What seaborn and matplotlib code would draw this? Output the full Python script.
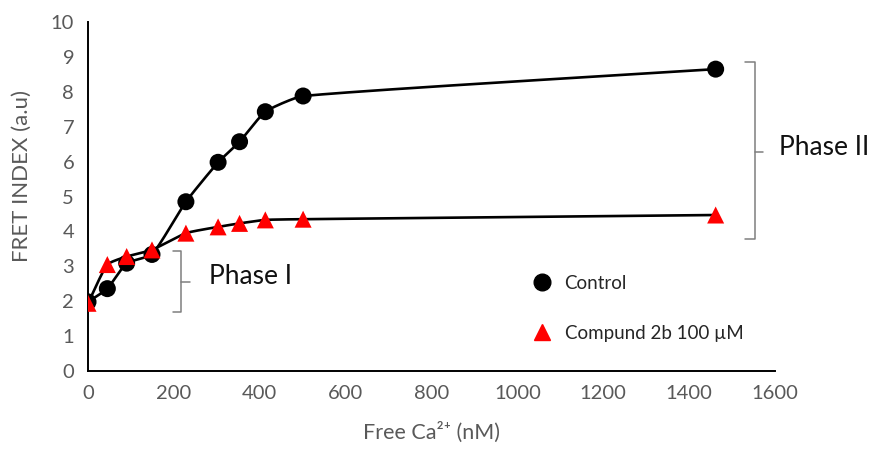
import numpy as np
import pandas as pd
import matplotlib
matplotlib.use("Agg")
import matplotlib.pyplot as plt
import seaborn as sns
from matplotlib.lines import Line2D

# ---- data ----
ctrl_x = [0, 45, 90, 149, 228, 303, 353, 413, 501, 1462]
ctrl_y = [1.98, 2.36, 3.09, 3.34, 4.85, 5.98, 6.57, 7.43, 7.88, 8.65]
cmp_x = [0, 45, 90, 149, 228, 303, 353, 413, 501, 1462]
cmp_y = [1.94, 3.05, 3.28, 3.47, 3.95, 4.13, 4.23, 4.33, 4.35, 4.47]
series_names = ["Control", "Compund 2b 100 \u00b5M"]
x_ticks = [0, 200, 400, 600, 800, 1000, 1200, 1400, 1600]
y_ticks = list(range(0, 11))

sns.set_theme(style="white")
plt.rcParams['font.family'] = ['Lato', 'DejaVu Sans']

fig = plt.figure(figsize=(8.75, 4.55), dpi=100)
ax = fig.add_axes([0.1006, 0.1846, 0.785, 0.767])

GRAY = "#595959"

def smooth(xs, ys, sx=0.4306, sy=34.9, n=40, k=0.5):
    # smoothed Bezier path computed in display-scaled space,
    # handle lengths proportional to adjacent segment lengths
    P = np.column_stack([np.asarray(xs) * sx, np.asarray(ys) * sy])
    m = len(P)
    D = []
    for i in range(m):
        a = P[i - 1] if i > 0 else P[i]
        b = P[i + 1] if i + 1 < m else P[i]
        d = b - a
        D.append(d / (np.linalg.norm(d) + 1e-9))
    out = []
    for i in range(m - 1):
        p1, p2 = P[i], P[i + 1]
        L = np.linalg.norm(p2 - p1)
        c1 = p1 + D[i] * L * k / 1.5 * 0.5
        c2 = p2 - D[i + 1] * L * k / 1.5 * 0.5
        t = np.linspace(0, 1, n)[:, None]
        seg = ((1 - t) ** 3) * p1 + 3 * ((1 - t) ** 2) * t * c1 + 3 * (1 - t) * t ** 2 * c2 + t ** 3 * p2
        out.append(seg if i == 0 else seg[1:])
    out = np.vstack(out)
    return out[:, 0] / sx, out[:, 1] / sy

for xs, ys in [(ctrl_x, ctrl_y), (cmp_x, cmp_y)]:
    sxv, syv = smooth(xs, ys)
    ax.plot(sxv, syv, color="black", lw=1.9, zorder=2, solid_capstyle="round")

df = pd.concat([
    pd.DataFrame({"x": ctrl_x, "y": ctrl_y, "s": series_names[0]}),
    pd.DataFrame({"x": cmp_x, "y": cmp_y, "s": series_names[1]}),
])
sns.scatterplot(data=df, x="x", y="y", hue="s", style="s",
                palette={series_names[0]: "black", series_names[1]: "#ff0000"},
                markers={series_names[0]: "o", series_names[1]: "^"},
                s=150, edgecolor="none", linewidth=0, legend=False, ax=ax, zorder=3)

ax.set_xlim(0, 1600)
ax.set_ylim(0, 10)
ax.set_xticks(x_ticks)
ax.set_yticks(y_ticks)
ax.tick_params(axis="both", length=0, labelsize=14.5, colors=GRAY, pad=10)
for sp in ["top", "right"]:
    ax.spines[sp].set_visible(False)
for sp in ["left", "bottom"]:
    ax.spines[sp].set_color("black")
    ax.spines[sp].set_linewidth(1.4)

ax.set_xlabel("Free Ca\u00b2\u207a (nM)", fontsize=15.5, color=GRAY, labelpad=14)
ax.set_ylabel("FRET INDEX (a.u)", fontsize=16, color=GRAY)
ax.yaxis.set_label_coords(-0.082, 0.56)

# brackets
bc = "#7f7f7f"
def brace(x0, x1, x2, ytop, ybot, ymid):
    kw = dict(color=bc, lw=1.1, clip_on=False, zorder=1)
    ax.plot([x0, x1, x1, x0], [ytop, ytop, ybot, ybot], **kw)
    ax.plot([x1, x2], [ymid, ymid], **kw)

brace(197, 217, 237, 3.45, 1.70, 2.56)
ax.text(281, 2.72, "Phase I", fontsize=19, color="#111111", va="center", ha="left")
brace(1530, 1554, 1572, 8.85, 3.78, 6.27)
ax.text(1610, 6.40, "Phase II", fontsize=19, color="#111111", va="center", ha="left", clip_on=False)

handles = [Line2D([], [], ls="none", marker="o", color="black", markersize=12),
           Line2D([], [], ls="none", marker="^", color="#ff0000", markersize=12)]
ax.legend(handles, series_names, loc="center left", bbox_to_anchor=(0.62, 0.18),
          frameon=False, fontsize=13.5, labelspacing=1.75, handletextpad=0.6,
          handlelength=1.2)

fig.savefig("out.png", dpi=100)
